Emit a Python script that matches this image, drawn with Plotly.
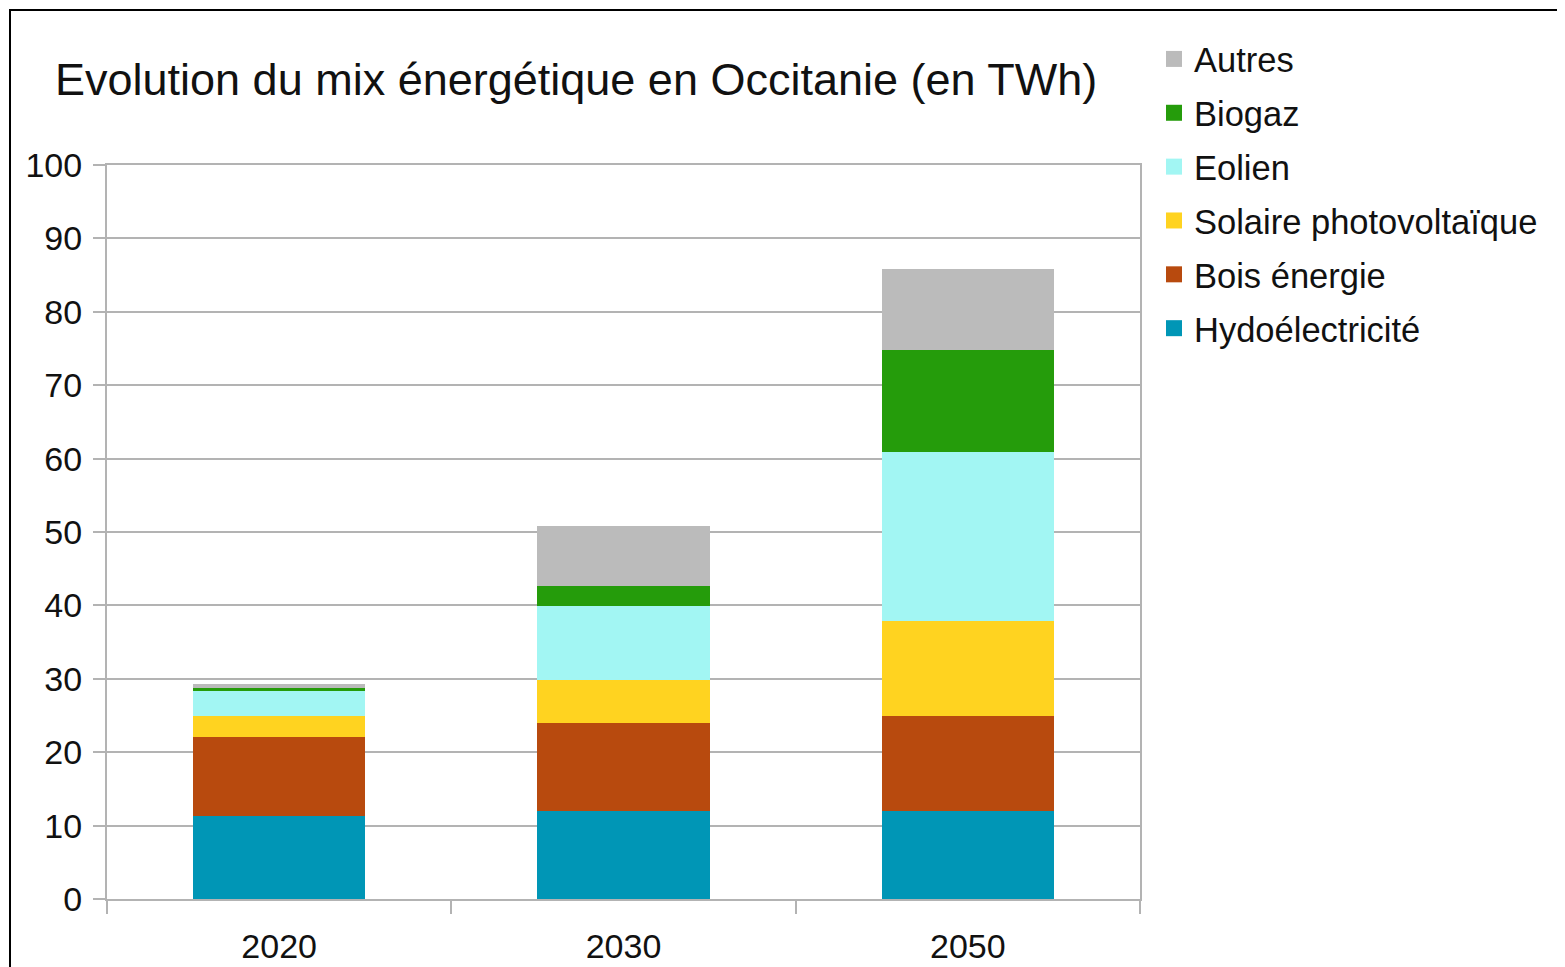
import plotly.graph_objects as go

years = ["2020", "2030", "2050"]
series_names = ["Hydoélectricité", "Bois énergie", "Solaire photovoltaïque", "Eolien", "Biogaz", "Autres"]
hydro = [11.3, 12.0, 12.0]
bois = [10.8, 12.0, 12.9]
solaire = [2.8, 5.8, 13.0]
eolien = [3.5, 10.1, 23.0]
biogaz = [0.3, 2.8, 13.9]
autres = [0.6, 8.1, 11.0]
colors = ["#0096b6", "#b84a0e", "#ffd320", "#a2f6f3", "#259c0b", "#bbbbbb"]
y_ticks = [0, 10, 20, 30, 40, 50, 60, 70, 80, 90, 100]

values = [hydro, bois, solaire, eolien, biogaz, autres]

FONT = "Liberation Sans, Arial, sans-serif"
fig = go.Figure()
for name, vals, col in zip(series_names, values, colors):
    fig.add_trace(go.Bar(x=years, y=vals, name=name, marker=dict(color=col, line=dict(width=0)),
                         width=0.5, showlegend=False))
# legend entries (top to bottom)
for name, col in reversed(list(zip(series_names, colors))):
    fig.add_trace(go.Scatter(x=[None], y=[None], mode="markers", name=name,
                             marker=dict(symbol="square", size=16, color=col, line=dict(width=0)),
                             legendgroup=name))

OFF = 8  # browser default body margin
L, R, T, B = 107 - OFF, 1140 - OFF, 165 - OFF, 899 - OFF
W, H = 1565 - OFF, 967 - OFF
pw, ph = R - L, B - T
def px(x):
    return (x - OFF - L) / pw
def py(y):
    return (B - (y - OFF)) / ph

fig.update_layout(
    width=W, height=H,
    margin=dict(l=L, r=W - R, t=T, b=H - B, autoexpand=False),
    barmode="stack",
    paper_bgcolor="white", plot_bgcolor="white",
    font=dict(family=FONT, size=34, color="#111111"),
    title=dict(text="Evolution du mix énergétique en Occitanie (en TWh)",
               x=(55 - OFF) / W, xanchor="left", y=1 - (79 - OFF) / H, yanchor="middle",
               font=dict(size=45, family=FONT, color="#111111")),
    showlegend=True,
    legend=dict(x=px(1154), xanchor="left", y=py(30), yanchor="top",
                traceorder="grouped", tracegroupgap=6,
                font=dict(size=34.5, family=FONT, color="#111111"),
                bgcolor="rgba(0,0,0,0)"),
    xaxis=dict(type="category", showgrid=False, showline=True, linecolor="#b3b3b3", linewidth=2,
               mirror=True, ticks="outside", tickson="boundaries", ticklen=13, tickcolor="#b3b3b3",
               tickwidth=2, ticklabelstandoff=16, automargin=False,
               tickfont=dict(size=34, family=FONT, color="#111111")),
    yaxis=dict(range=[0, 100], tickvals=y_ticks, showgrid=True, gridcolor="#b3b3b3", gridwidth=2,
               showline=True, linecolor="#b3b3b3", linewidth=2, mirror=True,
               ticks="outside", ticklen=12, tickcolor="#b3b3b3", tickwidth=2,
               ticklabelstandoff=4, zeroline=False, automargin=False,
               tickfont=dict(size=34, family=FONT, color="#111111")),
)
fig.add_shape(type="rect", xref="paper", yref="paper",
              x0=px(10), x1=px(1600), y0=py(1000), y1=py(10),
              line=dict(color="black", width=2), fillcolor="rgba(0,0,0,0)", layer="above")

fig.write_html("out.html")
